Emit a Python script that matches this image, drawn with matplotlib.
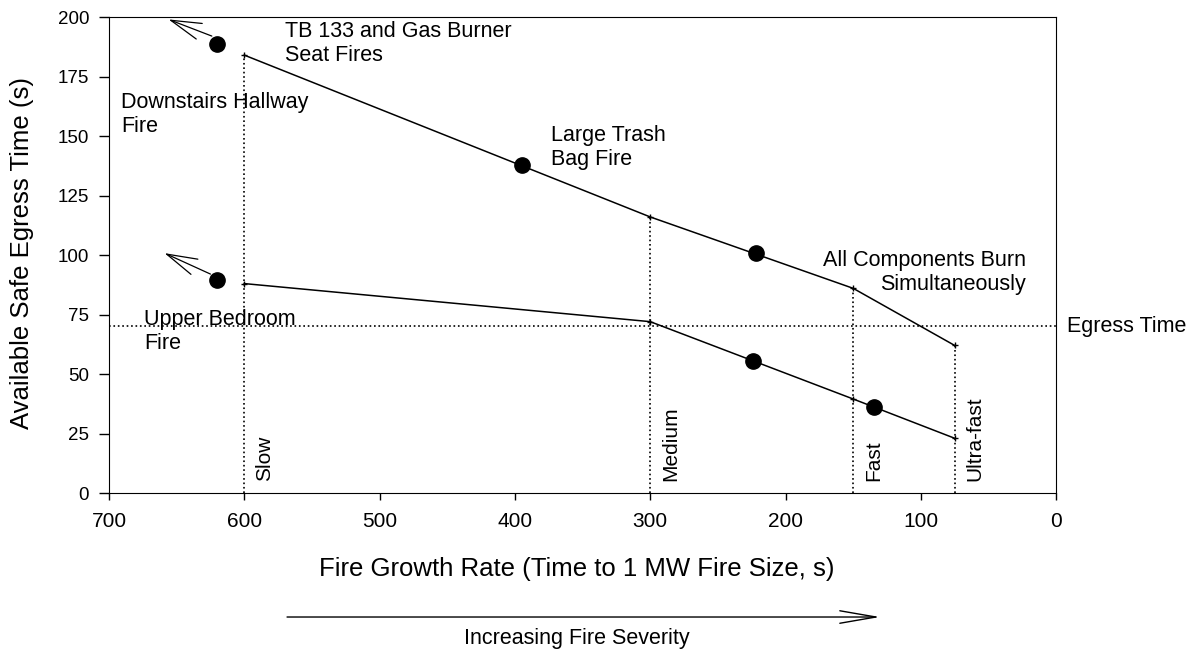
import matplotlib.pyplot as plt
import matplotlib.transforms as mtransforms

plt.rcParams['font.family'] = ['Liberation Sans', 'DejaVu Sans']

# fire growth categories (time to 1 MW, s)
growth_x = [600, 300, 150, 75]
growth_names = ["Slow", "Medium", "Fast", "Ultra-fast"]

# ASET lines
hall_y = [184, 116, 86, 62]
bed_y = [88, 72, 39.5, 23]

# measured fires
hall_pts_x = [620, 395, 222]
hall_pts_y = [188.5, 138, 101]
bed_pts_x = [620, 224, 135]
bed_pts_y = [89.5, 55.5, 36]

egress = 70

fig = plt.figure(figsize=(11.96, 6.55), dpi=100)
ax = fig.add_axes([0.0911, 0.2473, 0.792, 0.7267])

for x, y in zip(growth_x, hall_y):
    ax.plot([x, x], [0, y], color='black', linestyle=':', linewidth=1.2)
ax.axhline(egress, color='black', linestyle=':', linewidth=1.2)

ax.plot(growth_x, hall_y, color='black', linewidth=1.1, marker='+', markersize=5)
ax.plot(growth_x, bed_y, color='black', linewidth=1.1, marker='+', markersize=5)
ax.plot(hall_pts_x, hall_pts_y, 'o', color='black', markersize=11, linestyle='none')
ax.plot(bed_pts_x, bed_pts_y, 'o', color='black', markersize=11, linestyle='none')

# open arrows off the slow end
arr = dict(arrowstyle='->,head_length=2.2,head_width=0.6', color='black', linewidth=0.9, shrinkA=0, shrinkB=0)
ax.annotate('', xy=(656, 199), xytext=(624, 192), arrowprops=arr)
ax.annotate('', xy=(659, 100.8), xytext=(625, 92), arrowprops=arr)

fs = 15.5
ls = 1.17
for x, name in zip(growth_x, growth_names):
    ax.text(x - 8, 5, name, rotation=90, ha='left', va='bottom', fontsize=15)

ax.text(570, 198.5, "TB 133 and Gas Burner\nSeat Fires", ha='left', va='top', fontsize=fs, linespacing=1.22)
ax.text(691, 168.5, "Downstairs Hallway\nFire", ha='left', va='top', fontsize=fs, linespacing=ls)
ax.text(373, 154.6, "Large Trash\nBag Fire", ha='left', va='top', fontsize=fs, linespacing=ls)
ax.text(22.5, 102, "All Components Burn\nSimultaneously", ha='right', va='top', fontsize=fs, linespacing=ls)
ax.text(674, 77.3, "Upper Bedroom\nFire", ha='left', va='top', fontsize=fs, linespacing=ls)

tr = mtransforms.blended_transform_factory(ax.transAxes, ax.transData)
ax.text(1.0116, egress, "Egress Time", transform=tr, ha='left', va='center', fontsize=15.5, clip_on=False)

ax.set_xlim(700, 0)
ax.set_ylim(0, 200)
ax.set_xticks([700, 600, 500, 400, 300, 200, 100, 0])
ax.set_yticks([0, 25, 50, 75, 100, 125, 150, 175, 200])
ax.tick_params(axis='x', direction='out', length=5, pad=9, labelsize=15, width=1)
ax.tick_params(axis='y', direction='out', length=7.2, pad=7, labelsize=13.5, width=1)
ax.set_xlabel("Fire Growth Rate (Time to 1 MW Fire Size, s)", fontsize=18.5)
ax.set_ylabel("Available Safe Egress Time (s)", fontsize=18.5)
ax.xaxis.set_label_coords(0.4935, -0.134)
ax.yaxis.set_label_coords(-0.079, 0.505)

# severity arrow under the axis
ax.annotate('', xy=(0.814, -0.2605), xytext=(0.188, -0.2605), xycoords='axes fraction',
            textcoords='axes fraction',
            arrowprops=dict(arrowstyle='->,head_length=2.6,head_width=0.45', color='black',
                            linewidth=1, shrinkA=0, shrinkB=0))
ax.text(0.4937, -0.3046, "Increasing Fire Severity", transform=ax.transAxes, ha='center', va='center',
        fontsize=15.5)

plt.savefig('out.png', dpi=100)
